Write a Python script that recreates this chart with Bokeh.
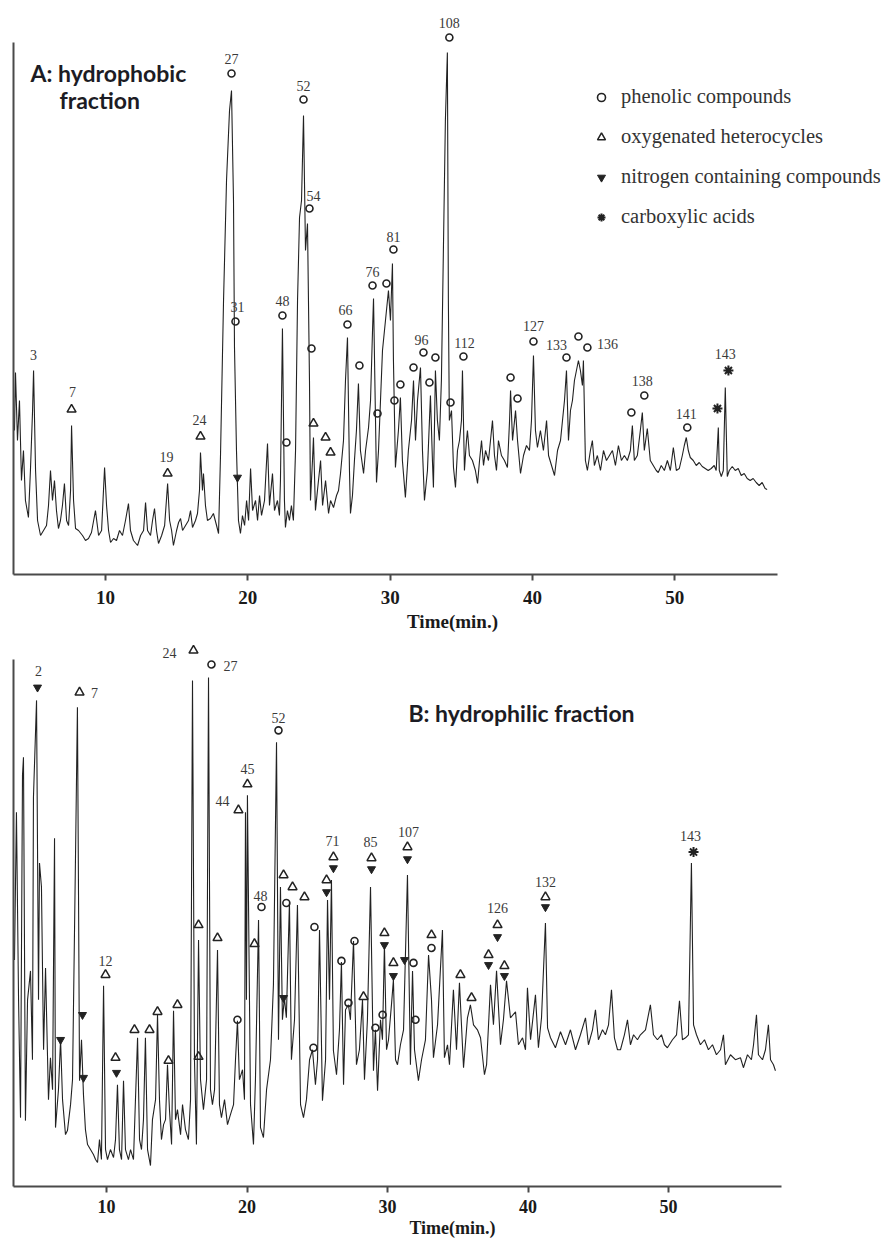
from bokeh.plotting import figure
from bokeh.layouts import column
from bokeh.models import Range1d, FixedTicker, Legend, LegendItem, Title
from bokeh.core.properties import value
from bokeh.embed import file_html
from bokeh.resources import INLINE

# ---------------- Panel A : hydrophobic fraction (time in min, abundance in arbitrary units)
A_TIME = [
    3.60, 3.67, 3.81, 3.95, 4.09, 4.23, 4.37, 4.58, 4.72, 4.87,
    4.94, 5.08, 5.22, 5.43, 5.64, 5.85, 5.99, 6.13, 6.27, 6.41,
    6.55, 6.69, 6.83, 6.97, 7.11, 7.26, 7.40, 7.54, 7.61, 7.75,
    7.89, 8.10, 8.38, 8.59, 8.80, 9.01, 9.29, 9.51, 9.72, 9.93,
    10.07, 10.21, 10.35, 10.56, 10.77, 10.98, 11.19, 11.40, 11.61, 11.75,
    11.96, 12.25, 12.46, 12.67, 12.81, 12.95, 13.16, 13.30, 13.44, 13.58,
    13.72, 13.94, 14.15, 14.36, 14.50, 14.64, 14.77, 14.99, 15.13, 15.27,
    15.41, 15.62, 15.83, 15.97, 16.11, 16.32, 16.46, 16.60, 16.67, 16.81,
    16.88, 17.02, 17.16, 17.37, 17.58, 17.80, 17.94, 18.08, 18.29, 18.50,
    18.71, 18.85, 18.99, 19.06, 19.20, 19.34, 19.48, 19.62, 19.77, 19.91,
    20.05, 20.19, 20.33, 20.54, 20.68, 20.82, 20.96, 21.17, 21.38, 21.52,
    21.73, 21.87, 22.08, 22.22, 22.29, 22.43, 22.57, 22.64, 22.78, 22.92,
    23.06, 23.20, 23.35, 23.49, 23.63, 23.77, 23.91, 24.05, 24.19, 24.33,
    24.40, 24.54, 24.61, 24.75, 24.89, 25.11, 25.25, 25.46, 25.67, 25.81,
    26.02, 26.23, 26.37, 26.51, 26.72, 26.86, 27.00, 27.14, 27.21, 27.35,
    27.49, 27.63, 27.77, 27.91, 28.13, 28.27, 28.48, 28.62, 28.76, 28.83,
    28.97, 29.04, 29.18, 29.32, 29.46, 29.67, 29.88, 30.02, 30.16, 30.23,
    30.37, 30.58, 30.72, 30.86, 31.07, 31.28, 31.50, 31.64, 31.78, 31.92,
    32.13, 32.27, 32.41, 32.62, 32.83, 32.97, 33.04, 33.18, 33.32, 33.46,
    33.60, 33.74, 33.88, 34.02, 34.09, 34.16, 34.31, 34.45, 34.59, 34.73,
    34.87, 35.01, 35.08, 35.22, 35.36, 35.43, 35.57, 35.78, 35.99, 36.14,
    36.28, 36.42, 36.56, 36.70, 36.91, 37.05, 37.19, 37.33, 37.47, 37.61,
    37.82, 38.03, 38.24, 38.39, 38.46, 38.60, 38.81, 38.95, 39.16, 39.37,
    39.58, 39.79, 39.93, 40.07, 40.21, 40.35, 40.56, 40.77, 40.99, 41.13,
    41.34, 41.55, 41.76, 41.97, 42.11, 42.25, 42.39, 42.53, 42.67, 42.81,
    42.95, 43.09, 43.23, 43.37, 43.51, 43.58, 43.72, 43.86, 44.07, 44.21,
    44.35, 44.56, 44.78, 44.99, 45.20, 45.41, 45.62, 45.83, 46.04, 46.25,
    46.46, 46.67, 46.88, 47.02, 47.16, 47.37, 47.58, 47.72, 47.86, 48.07,
    48.28, 48.49, 48.70, 48.84, 49.05, 49.27, 49.48, 49.69, 49.90, 50.11,
    50.32, 50.53, 50.67, 50.81, 50.95, 51.09, 51.30, 51.51, 51.72, 51.93,
    52.14, 52.35, 52.56, 52.77, 52.91, 53.06, 53.13, 53.27, 53.41, 53.55,
    53.69, 53.83, 54.04, 54.25, 54.46, 54.67, 54.88, 55.09, 55.30, 55.51,
    55.72, 55.93, 56.14, 56.35, 56.49,
]
A_ABUND = [
    144, 202, 134, 174, 94, 124, 74, 57, 104, 164,
    204, 104, 54, 39, 44, 49, 69, 104, 74, 94,
    64, 46, 54, 69, 91, 54, 49, 84, 149, 74,
    46, 44, 39, 34, 36, 42, 64, 39, 44, 107,
    69, 44, 32, 36, 34, 44, 39, 54, 71, 44,
    34, 29, 39, 44, 72, 44, 39, 54, 66, 44,
    31, 39, 49, 91, 54, 44, 29, 44, 52, 56,
    44, 49, 54, 64, 47, 54, 61, 84, 122, 84,
    101, 69, 54, 56, 61, 49, 41, 121, 274, 394,
    464, 484, 374, 227, 124, 54, 41, 59, 49, 74,
    54, 106, 64, 74, 54, 79, 59, 74, 131, 69,
    101, 64, 74, 59, 94, 246, 74, 47, 64, 54,
    69, 54, 124, 274, 357, 374, 459, 324, 351, 194,
    74, 114, 137, 64, 84, 114, 69, 94, 61, 74,
    67, 79, 84, 101, 134, 194, 237, 104, 61, 79,
    114, 144, 191, 124, 101, 124, 147, 174, 244, 276,
    154, 92, 124, 174, 224, 254, 284, 254, 311, 214,
    107, 144, 177, 114, 77, 124, 154, 194, 134, 174,
    207, 124, 74, 104, 179, 114, 87, 204, 154, 134,
    194, 324, 454, 522, 274, 154, 164, 107, 87, 124,
    134, 154, 204, 104, 134, 144, 119, 114, 104, 91,
    114, 134, 109, 124, 114, 134, 154, 119, 104, 134,
    119, 114, 107, 154, 184, 134, 164, 134, 101, 119,
    129, 124, 154, 219, 144, 127, 144, 124, 154, 119,
    109, 99, 124, 134, 154, 174, 204, 134, 164, 174,
    194, 204, 214, 204, 189, 214, 114, 104, 124, 134,
    109, 119, 104, 124, 114, 119, 124, 109, 129, 114,
    119, 114, 124, 149, 114, 119, 144, 162, 124, 146,
    114, 109, 104, 102, 109, 104, 114, 104, 127, 104,
    106, 119, 129, 137, 124, 117, 114, 109, 112, 108,
    106, 104, 106, 109, 104, 147, 104, 98, 104, 187,
    98, 104, 108, 104, 106, 99, 101, 96, 94, 96,
    92, 89, 92, 86, 85,
]
A_PHENOLIC_T = [18.85, 23.91, 24.33, 19.13, 22.43, 22.71, 24.47, 27.00, 27.84, 29.11,
                28.76, 29.74, 30.23, 30.30, 30.72, 31.64, 32.34, 32.76, 33.18, 34.24,
                34.16, 35.15, 38.46, 38.95, 40.07, 42.39, 43.23, 43.86, 46.95, 47.86, 50.88]
A_PHENOLIC_Y = [501, 475, 366, 253, 259, 132, 226, 250, 209, 161,
                289, 291, 325, 174, 190, 207, 222, 192, 217, 172,
                537, 218, 197, 176, 233, 217, 238, 227, 162, 179, 147]
A_OXY_T = [7.61, 14.36, 16.67, 24.61, 25.46, 25.81]
A_OXY_Y = [165, 101, 138, 151, 137, 122]
A_NITRO_T = [19.27]
A_NITRO_Y = [97]
A_ACID_T = [53.00, 53.77]
A_ACID_Y = [166, 204]
A_PEAK_IDS = ["3", "7", "19", "24", "27", "31", "48", "52", "54", "66", "76", "81", "96",
              "108", "112", "127", "133", "136", "138", "141", "143"]
A_PEAK_T = [4.94, 7.68, 14.29, 16.60, 18.85, 19.27, 22.43, 23.91, 24.61, 26.86, 28.76, 30.23,
            32.20, 34.16, 35.22, 40.07, 41.69, 45.27, 47.72, 50.81, 53.55]
A_PEAK_Y = [220, 183, 118, 155, 516, 268, 274, 489, 379, 265, 303, 338, 235, 552, 232,
            249, 230, 231, 194, 161, 221]

# ---------------- Panel B : hydrophilic fraction
B_TIME = [
    3.45, 3.59, 3.74, 3.88, 4.02, 4.09, 4.23, 4.38, 4.59, 4.73,
    4.80, 5.02, 5.16, 5.23, 5.37, 5.52, 5.66, 5.87, 6.01, 6.16,
    6.30, 6.37, 6.58, 6.73, 6.87, 7.08, 7.22, 7.44, 7.58, 7.79,
    7.93, 8.01, 8.08, 8.22, 8.36, 8.50, 8.65, 8.86, 9.07, 9.22,
    9.36, 9.50, 9.64, 9.79, 9.93, 10.07, 10.28, 10.50, 10.64, 10.78,
    10.92, 11.07, 11.21, 11.35, 11.56, 11.71, 11.92, 12.06, 12.21, 12.35,
    12.49, 12.63, 12.77, 12.92, 13.13, 13.27, 13.49, 13.63, 13.77, 13.91,
    14.06, 14.20, 14.34, 14.48, 14.63, 14.77, 14.91, 15.05, 15.27, 15.41,
    15.62, 15.83, 15.98, 16.12, 16.26, 16.40, 16.55, 16.69, 16.90, 17.12,
    17.26, 17.40, 17.54, 17.69, 17.90, 18.04, 18.18, 18.40, 18.61, 18.82,
    19.04, 19.18, 19.32, 19.46, 19.68, 19.82, 19.89, 19.96, 20.03, 20.25,
    20.46, 20.60, 20.82, 20.96, 21.17, 21.39, 21.67, 21.88, 22.10, 22.24,
    22.38, 22.52, 22.66, 22.80, 23.02, 23.16, 23.38, 23.59, 23.81, 24.02,
    24.23, 24.45, 24.66, 24.87, 25.02, 25.16, 25.37, 25.59, 25.73, 25.87,
    26.01, 26.15, 26.37, 26.58, 26.72, 26.87, 27.01, 27.22, 27.36, 27.58,
    27.79, 28.00, 28.22, 28.36, 28.57, 28.79, 29.00, 29.14, 29.29, 29.50,
    29.64, 29.78, 29.93, 30.07, 30.28, 30.42, 30.57, 30.71, 30.92, 31.14,
    31.42, 31.63, 31.78, 31.92, 32.20, 32.42, 32.70, 32.92, 33.13, 33.27,
    33.56, 33.91, 34.05, 34.27, 34.41, 34.69, 34.91, 35.12, 35.41, 35.69,
    35.90, 36.12, 36.40, 36.62, 36.90, 37.05, 37.33, 37.54, 37.76, 38.04,
    38.25, 38.47, 38.75, 39.11, 39.32, 39.61, 39.82, 39.96, 40.18, 40.53,
    40.74, 40.96, 41.24, 41.39, 41.60, 41.95, 42.31, 42.67, 43.02, 43.38,
    43.73, 44.09, 44.30, 44.59, 44.80, 45.01, 45.30, 45.51, 45.73, 45.94,
    46.15, 46.37, 46.58, 46.86, 47.08, 47.29, 47.51, 47.79, 48.00, 48.36,
    48.71, 48.93, 49.21, 49.50, 49.71, 49.92, 50.28, 50.57, 50.78, 50.99,
    51.21, 51.42, 51.63, 51.78, 51.99, 52.27, 52.56, 52.84, 53.13, 53.41,
    53.70, 53.91, 54.05, 54.41, 54.76, 55.12, 55.33, 55.62, 55.90, 56.05,
    56.26, 56.40, 56.69, 56.90, 57.11, 57.26, 57.47, 57.61,
]
B_ABUND = [
    227, 375, 187, 69, 412, 430, 66, 187, 216, 127,
    390, 487, 187, 324, 300, 137, 219, 87, 129, 97,
    349, 59, 97, 147, 87, 52, 56, 82, 107, 327,
    480, 287, 106, 147, 92, 57, 42, 37, 32, 27,
    24, 47, 27, 201, 37, 27, 37, 29, 47, 102,
    37, 27, 106, 37, 27, 37, 27, 87, 149, 47,
    37, 67, 149, 37, 21, 67, 87, 172, 87, 47,
    62, 67, 122, 77, 42, 176, 67, 77, 52, 82,
    57, 47, 87, 507, 127, 42, 247, 107, 77, 107,
    510, 97, 82, 97, 237, 82, 69, 87, 62, 72,
    82, 127, 166, 107, 117, 87, 375, 187, 392, 82,
    42, 107, 267, 59, 49, 97, 127, 202, 445, 147,
    300, 167, 189, 169, 285, 127, 167, 282, 82, 69,
    87, 127, 137, 102, 127, 257, 86, 127, 287, 187,
    307, 136, 112, 157, 225, 102, 177, 182, 167, 246,
    122, 137, 187, 107, 167, 300, 116, 157, 96, 167,
    147, 242, 137, 147, 182, 207, 127, 122, 142, 157,
    312, 122, 216, 137, 106, 127, 147, 232, 187, 129,
    162, 257, 129, 142, 122, 197, 137, 204, 119, 169,
    182, 162, 157, 149, 112, 122, 202, 162, 216, 142,
    167, 206, 169, 175, 142, 149, 137, 199, 147, 192,
    139, 169, 264, 159, 149, 139, 155, 142, 157, 137,
    152, 169, 142, 157, 177, 147, 157, 152, 162, 197,
    149, 137, 137, 152, 167, 142, 152, 147, 152, 157,
    182, 152, 147, 152, 142, 139, 147, 152, 186, 147,
    149, 152, 324, 162, 152, 142, 147, 137, 142, 132,
    137, 152, 122, 132, 127, 129, 119, 132, 127, 142,
    172, 132, 127, 137, 162, 127, 122, 116,
]
B_PHENOLIC_T = [17.47, 21.03, 22.24, 19.32, 22.80, 24.80, 24.73, 26.72, 27.22, 27.65,
                29.14, 29.65, 31.85, 31.99, 33.13]
B_PHENOLIC_Y = [523, 280, 457, 167, 284, 260, 139, 226, 184, 246,
                159, 172, 224, 167, 239]
B_OXY_T = [8.08, 9.93, 10.64, 11.99, 13.06, 13.63, 14.41, 15.05, 16.19, 16.55,
           16.55, 17.90, 19.39, 20.03, 20.53, 22.60, 23.24, 24.09, 25.66, 26.15,
           28.29, 28.86, 29.78, 30.42, 31.42, 33.13, 35.19, 35.98, 37.19, 37.83,
           38.32, 41.24]
B_OXY_Y = [495, 212, 129, 157, 157, 175, 126, 182, 537, 262,
           130, 249, 377, 403, 243, 312, 300, 290, 307, 330,
           190, 329, 254, 224, 340, 252, 212, 189, 232, 262,
           221, 290]
B_NITRO_T = [5.09, 6.73, 8.29, 8.36, 10.71, 22.60, 25.66, 26.15, 28.86, 29.78,
             30.42, 31.42, 31.21, 37.19, 37.83, 38.32, 41.24]
B_NITRO_Y = [500, 147, 172, 109, 114, 189, 295, 319, 318, 242,
             211, 328, 227, 222, 250, 211, 280]
B_ACID_T = [51.78]
B_ACID_Y = [335]
B_PEAK_IDS = ["2", "7", "12", "24", "27", "44", "45", "48", "52", "71", "85", "107",
              "126", "132", "143"]
B_PEAK_T = [5.16, 9.14, 9.93, 14.48, 18.82, 18.25, 20.03, 20.96, 22.24, 26.08, 28.79,
            31.49, 37.83, 41.24, 51.56]
B_PEAK_Y = [516, 494, 226, 534, 521, 386, 418, 291, 469, 346, 345, 355, 279, 305, 351]

TICKS = [10, 20, 30, 40, 50]
INK = "#222222"
SERIF = "Liberation Serif"


def make_panel(height, x_range, x_bounds, y_range, y_bounds, border_bottom,
               font_px, tick_standoff, title_offset, title_standoff):
    p = figure(width=891, height=height, x_range=Range1d(*x_range), y_range=Range1d(*y_range),
               output_backend="svg", toolbar_location=None,
               min_border_left=13, min_border_right=0, min_border_top=0,
               min_border_bottom=border_bottom)
    p.outline_line_color = None
    p.grid.visible = False
    p.background_fill_color = "white"
    xa = p.xaxis[0]
    xa.ticker = FixedTicker(ticks=TICKS)
    xa.bounds = x_bounds
    xa.axis_line_color = "#4a4a4a"
    xa.axis_line_width = 2
    xa.major_tick_line_color = "#4a4a4a"
    xa.major_tick_line_width = 2
    xa.major_tick_out = 6
    xa.major_tick_in = 0
    xa.minor_tick_line_color = None
    xa.major_label_text_font = SERIF
    xa.major_label_text_font_style = "bold"
    xa.major_label_text_font_size = font_px
    xa.major_label_text_color = "#1a1a1a"
    xa.major_label_standoff = tick_standoff
    ya = p.yaxis[0]
    ya.ticker = FixedTicker(ticks=[])
    ya.bounds = y_bounds
    ya.axis_line_color = "#4a4a4a"
    ya.axis_line_width = 2
    ya.major_tick_out = 0
    ya.major_tick_in = 0
    ya.minor_tick_out = 0
    ya.minor_tick_in = 0
    ya.major_label_standoff = 0
    ya.major_label_text_font_size = "0px"
    # x-axis title, centred under the time axis as in the original figure
    p.add_layout(Title(text="Time(min.)", align="center", offset=title_offset,
                       standoff=title_standoff, text_font=SERIF, text_font_style="bold",
                       text_font_size=font_px, text_color="#1a1a1a"), "below")
    return p


def draw(p, t, y, phen, oxy, nitro, acid, ids):
    p.line(t, y, line_color=INK, line_width=1.1)
    r_phen = p.scatter(phen[0], phen[1], marker="circle", size=7, fill_color=None,
                       line_color=INK, line_width=1.6)
    r_oxy = p.scatter(oxy[0], oxy[1], marker="triangle", size=9, fill_color=None,
                      line_color=INK, line_width=1.5)
    r_nit = p.scatter(nitro[0], nitro[1], marker="inverted_triangle", size=8,
                      fill_color=INK, line_color=INK, line_width=1)
    r_acid = p.scatter(acid[0], acid[1], marker="asterisk", size=10, line_color=INK,
                       line_width=2)
    p.text(ids[1], ids[2], text=ids[0], text_font=value(SERIF), text_font_size="14px",
           text_align="center", text_baseline="middle", text_color="#3a3a3a")
    return r_phen, r_oxy, r_nit, r_acid


# ---- top panel
pa = make_panel(640, (3.53, 65.23), (3.53, 57.22), (0, 574), (0, 532), 66,
                "19px", 10, -62, 5)
ra = draw(pa, A_TIME, A_ABUND, (A_PHENOLIC_T, A_PHENOLIC_Y), (A_OXY_T, A_OXY_Y),
          (A_NITRO_T, A_NITRO_Y), (A_ACID_T, A_ACID_Y), (A_PEAK_IDS, A_PEAK_T, A_PEAK_Y))
pa.text([4.73], [502], text=["A: hydrophobic"], text_font=value("Lato"),
        text_font_style="bold", text_font_size="23px", text_baseline="middle",
        text_color="#1c1c24")
pa.text([6.76], [475], text=["fraction"], text_font=value("Lato"),
        text_font_style="bold", text_font_size="23px", text_baseline="middle",
        text_color="#1c1c24")
legend = Legend(items=[
    LegendItem(label="phenolic compounds", renderers=[ra[0]]),
    LegendItem(label="oxygenated heterocycles", renderers=[ra[1]]),
    LegendItem(label="nitrogen containing compounds", renderers=[ra[2]]),
    LegendItem(label="carboxylic acids", renderers=[ra[3]]),
], location=(578, 346), orientation="vertical", border_line_color=None,
    background_fill_alpha=0, label_text_font=SERIF, label_text_font_size="20.5px",
    label_text_color="#333333", glyph_width=20, glyph_height=22, label_height=22,
    spacing=17, label_standoff=10, padding=10, margin=0)
pa.add_layout(legend)

# ---- bottom panel
pb = make_panel(598, (3.38, 65.87), (3.38, 58.04), (0, 547), (0, 528), 51,
                "18px", 7, -59, 1)
draw(pb, B_TIME, B_ABUND, (B_PHENOLIC_T, B_PHENOLIC_Y), (B_OXY_T, B_OXY_Y),
     (B_NITRO_T, B_NITRO_Y), (B_ACID_T, B_ACID_Y), (B_PEAK_IDS, B_PEAK_T, B_PEAK_Y))
pb.text([31.49], [474], text=["B: hydrophilic fraction"], text_font=value("Lato"),
        text_font_style="bold", text_font_size="23px", text_baseline="middle",
        text_color="#1c1c24")

layout = column(pa, pb, spacing=0)
open("out.html", "w").write(file_html(layout, INLINE))
